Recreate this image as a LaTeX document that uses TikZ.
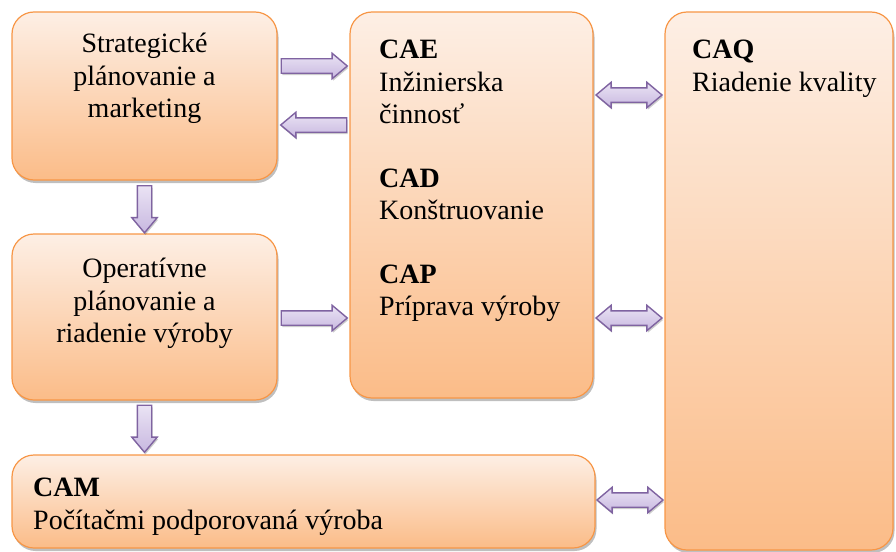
\documentclass[tikz,border=0pt]{standalone}
\usepackage{fontspec}
\setmainfont{Liberation Serif}
\usetikzlibrary{shapes.arrows,shadows,calc}

\definecolor{boxtop}{HTML}{FDEFE5}
\definecolor{boxbot}{HTML}{FBBC88}
\definecolor{boxedge}{HTML}{F79646}
\definecolor{arrtop}{HTML}{EAE3F4}
\definecolor{arrbot}{HTML}{C8B8E0}
\definecolor{arredge}{HTML}{7F63A1}

\tikzset{
  box/.style={draw=boxedge, line width=1.2pt, rounded corners=22pt,
    top color=boxtop, bottom color=boxbot, inner sep=0pt,
    drop shadow={shadow xshift=1.5pt, shadow yshift=-3pt, opacity=0.25, fill=black}},
  label/.style={inner sep=0pt, font=\fontsize{28}{32.5}\selectfont},
  arrowcommon/.style={draw=arredge, line width=1.4pt, top color=arrtop, bottom color=arrbot,
    inner xsep=0pt, inner ysep=6.5pt, minimum height=66pt,
    drop shadow={shadow xshift=1pt, shadow yshift=-2pt, opacity=0.2, fill=black}},
  barrow/.style={arrowcommon, single arrow, single arrow head extend=5.5pt,
    single arrow tip angle=80},
  darrow/.style={arrowcommon, double arrow, double arrow head extend=5.5pt,
    double arrow tip angle=80},
}

\begin{document}
\begin{tikzpicture}[x=1pt, y=-1pt]
\useasboundingbox (0,0) rectangle (896,551);

% main blocks
\node[box, minimum width=265pt, minimum height=168pt] (A) at (144.5,96) {};
\node[box, minimum width=265pt, minimum height=166pt] (B) at (144.5,317) {};
\node[box, minimum width=243pt, minimum height=386pt] (C) at (471.5,205) {};
\node[box, minimum width=228pt, minimum height=538pt] (D) at (779,281) {};
\node[box, minimum width=583pt, minimum height=93pt] (E) at (303.5,501.5) {};

% texts
\node[label, align=center, anchor=north] (tA) at (144.5,33) {Strategické\\plánovanie a\\marketing};
\node[label, align=center, anchor=north] (tB) at (144.5,258) {Operatívne\\plánovanie a\\riadenie výroby};
\node[label, align=left, anchor=north west] (tC) at (379,40)
  {\textbf{CAE}\\Inžinierska\\činnosť\\[31pt]\textbf{CAD}\\Konštruovanie\\[31pt]\textbf{CAP}\\Príprava výroby};
\node[label, align=left, anchor=north west] (tD) at (692,40) {\textbf{CAQ}\\Riadenie kvality};
\node[label, align=left, anchor=north west] (tE) at (33,478) {\textbf{CAM}\\Počítačmi podporovaná výroba};

% block arrows between blocks
\node[barrow] (AC) at (310,66) {};
\node[barrow, shape border rotate=180] (CA) at (318,125) {};
\node[barrow, minimum height=47pt, rotate=-90] (AB) at ($(A.south)!.5!(B.north) + (0,-2)$) {};
\node[barrow] (BC) at (310,318) {};
\node[barrow, minimum height=47pt, rotate=-90] (BE) at ($(B.south)!.5!(E.north -| B.south) + (0,-3)$) {};
\node[darrow] (CD1) at (629,95) {};
\node[darrow] (CD2) at (629,318) {};
\node[darrow] (ED) at (630,500) {};
\end{tikzpicture}
\end{document}
